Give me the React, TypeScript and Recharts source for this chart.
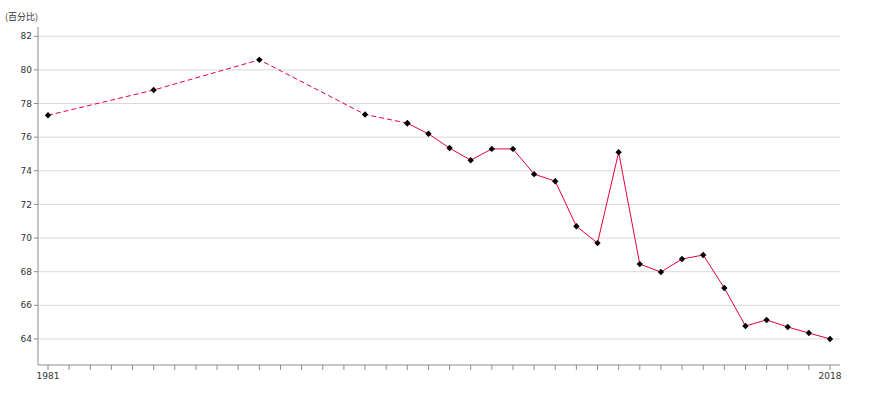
import React from "react";
import { LineChart, Line, XAxis, YAxis, ReferenceLine } from "recharts";

// years with a break before them are drawn dashed (1981-1998), the yearly run solid
const dashedYears = [1981, 1986, 1991, 1996, 1998];
const dashedValues = [77.3, 78.8, 80.6, 77.35, 76.83];

const solidYears = [
  1998, 1999, 2000, 2001, 2002, 2003, 2004, 2005, 2006, 2007, 2008, 2009,
  2010, 2011, 2012, 2013, 2014, 2015, 2016, 2017, 2018,
];
const solidValues = [
  76.83, 76.2, 75.35, 74.63, 75.3, 75.3, 73.8, 73.38, 70.7, 69.7, 75.1, 68.45,
  67.98, 68.75, 68.99, 67.03, 64.77, 65.13, 64.71, 64.35, 64.0,
];

const yearTicks = [
  1981, 1982, 1983, 1984, 1985, 1986, 1987, 1988, 1989, 1990, 1991, 1992,
  1993, 1994, 1995, 1996, 1997, 1998, 1999, 2000, 2001, 2002, 2003, 2004,
  2005, 2006, 2007, 2008, 2009, 2010, 2011, 2012, 2013, 2014, 2015, 2016,
  2017, 2018,
];
const labelledYears = [1981, 2018];
const valueTicks = [64, 66, 68, 70, 72, 74, 76, 78, 80, 82];

const allYears = Array.from(new Set([...dashedYears, ...solidYears])).sort((a, b) => a - b);
const rows = allYears.map((year) => {
  const d = dashedYears.indexOf(year);
  const s = solidYears.indexOf(year);
  return {
    year,
    dashed: d >= 0 ? dashedValues[d] : null,
    solid: s >= 0 ? solidValues[s] : null,
  };
});

const LINE = "#e8003d";
const AXIS = "#8c8c8c";
const FONT = "'DejaVu Sans', 'Noto Sans CJK SC', sans-serif";

function Diamond(props: any) {
  const { cx, cy, value } = props;
  if (value == null || cx == null || cy == null) return null;
  const r = 3.2;
  return (
    <path
      d={`M${cx},${cy - r} L${cx + r},${cy} L${cx},${cy + r} L${cx - r},${cy} Z`}
      fill="#000"
      stroke="none"
    />
  );
}

export default function App() {
  return (
    <div style={{ position: "absolute", left: 0, top: 0, width: 870, height: 400, background: "#fff", fontFamily: FONT }}>
      <div style={{ position: "absolute", left: 5, top: 10, fontSize: 9, color: "#333", fontFamily: "'Noto Sans CJK SC', sans-serif" }}>
        (百分比)
      </div>
      <LineChart width={870} height={400} data={rows} margin={{ top: 27, right: 30, bottom: 0, left: 0 }}>
        <XAxis
          dataKey="year"
          type="number"
          domain={[1981, 2018]}
          ticks={yearTicks}
          interval={0}
          padding={{ left: 10, right: 10 }}
          height={35}
          stroke={AXIS}
          tickSize={5}
          tickMargin={3}
          tickLine={{ stroke: AXIS }}
          tick={{ fill: "#333", fontSize: 9, fontFamily: FONT }}
          tickFormatter={(v: number) => (labelledYears.includes(v) ? String(v) : "")}
        />
        <YAxis
          type="number"
          domain={[62.45, 82.55]}
          ticks={valueTicks}
          interval={0}
          width={38}
          stroke={AXIS}
          tickSize={4}
          tick={{ fill: "#333", fontSize: 9, fontFamily: FONT }}
        />
        {valueTicks.map((v) => (
          <ReferenceLine key={v} y={v} stroke="#d9d9d9" strokeWidth={1} ifOverflow="extendDomain" />
        ))}
        <Line
          dataKey="dashed"
          stroke={LINE}
          strokeWidth={1}
          strokeDasharray="5 3"
          connectNulls
          dot={<Diamond />}
          activeDot={false}
          isAnimationActive={false}
          type="linear"
        />
        <Line
          dataKey="solid"
          stroke={LINE}
          strokeWidth={1}
          connectNulls
          dot={<Diamond />}
          activeDot={false}
          isAnimationActive={false}
          type="linear"
        />
      </LineChart>
    </div>
  );
}
